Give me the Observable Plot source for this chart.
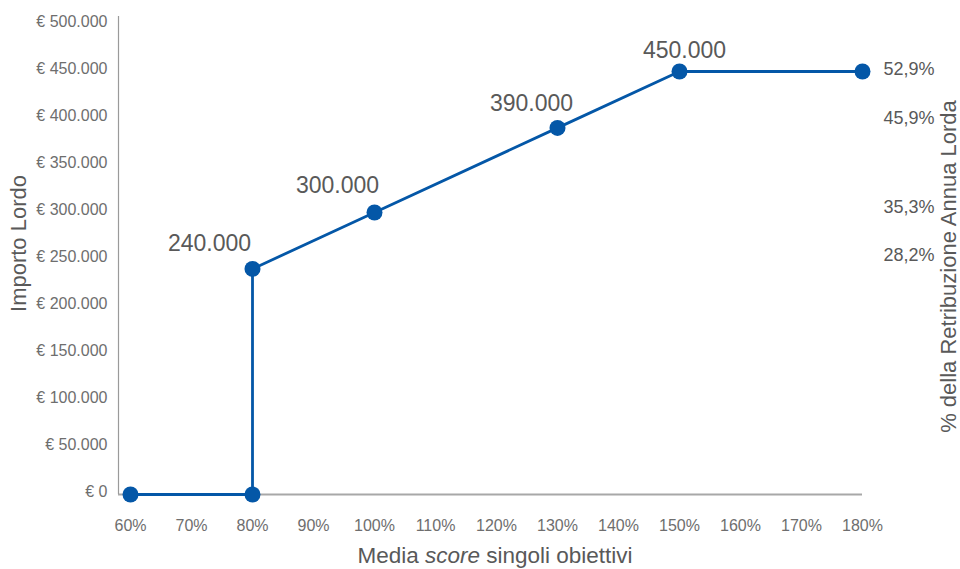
<!DOCTYPE html>
<html>
<head>
<meta charset="utf-8">
<script src="https://cdn.jsdelivr.net/npm/d3@7"></script>
<script src="https://cdn.jsdelivr.net/npm/@observablehq/plot@0.6"></script>
<style>
  body { margin: 0; background: #fff; }
  #chart svg { font-family: "Liberation Sans", Arial, sans-serif; }
</style>
</head>
<body>
<div id="chart"></div>
<script>
// Payout curve: gross amount by average score of individual objectives
const scores  = [0.6, 0.8, 0.8, 1.0, 1.3, 1.5, 1.8];
const amounts = [0, 0, 240000, 300000, 390000, 450000, 450000];

// Axis ticks
const xTicks = [0.6, 0.7, 0.8, 0.9, 1.0, 1.1, 1.2, 1.3, 1.4, 1.5, 1.6, 1.7, 1.8];
const yTicks = [0, 50000, 100000, 150000, 200000, 250000, 300000, 350000, 400000, 450000, 500000];

// Share of annual gross pay for each paid level
const pctAmounts = [450000, 390000, 300000, 240000];
const pctLabels  = ["52,9%", "45,9%", "35,3%", "28,2%"];

const it = d3.formatLocale({decimal: ",", thousands: ".", grouping: [3], currency: ["€ ", ""]});
const fmtAmount = it.format(",");

const points = scores.map((s, i) => ({score: s, amount: amounts[i]}));
const blue = "#0457a7";
const grey = "#595959";
const tickGrey = "#6e6e6e";

// value label above a point (index into points), with its own offset
const valueLabel = (i, dx, dy) => Plot.text([points[i]], {
  x: "score", y: "amount", text: d => fmtAmount(d.amount),
  dx, dy, fontSize: 23, fill: grey
});
// percentage note on the right side (index into pctAmounts)
const pctLabel = (i, dy) => Plot.text([{amount: pctAmounts[i], label: pctLabels[i]}], {
  x: () => 1.8, y: "amount", text: "label",
  dx: 21, dy, textAnchor: "start", fontSize: 18, fill: grey
});

const chart = Plot.plot({
  width: 960,
  height: 569,
  marginLeft: 118,
  marginRight: 98,
  marginTop: 16,
  marginBottom: 75,
  x: {domain: [0.6, 1.8], insetLeft: 12},
  y: {domain: [0, 508500]},
  style: {fontFamily: "'Liberation Sans', Arial, sans-serif", fontSize: "16px", background: "#fff", color: tickGrey},
  marks: [
    Plot.ruleY([0], {stroke: "#a8a8a8", strokeWidth: 2}),
    Plot.ruleX([0.6], {dx: -12, stroke: "#9a9a9a", strokeWidth: 1.2}),
    Plot.axisX({ticks: xTicks, tickFormat: d => Math.round(d * 100) + "%", tickSize: 0, tickPadding: 25, fontSize: 16, fill: tickGrey, label: null}),
    Plot.axisY({ticks: yTicks, tickFormat: d => "€ " + fmtAmount(d), tickSize: 0, tickPadding: 11, dy: -2.5, fontSize: 16, fill: tickGrey, label: null}),
    Plot.line(points, {x: "score", y: "amount", stroke: blue, strokeWidth: 2.8}),
    Plot.dot(points, {x: "score", y: "amount", r: 8, fill: blue}),
    valueLabel(2, -43, -25),
    valueLabel(3, -37, -27),
    valueLabel(4, -26, -24),
    valueLabel(5, 5, -21),
    pctLabel(0, -2),
    pctLabel(1, -10),
    pctLabel(2, -5),
    pctLabel(3, -14),
    Plot.text(["Importo Lordo"], {frameAnchor: "left", textAnchor: "middle", dx: -100, dy: -12, rotate: -90, fontSize: 22, fill: grey}),
    Plot.text(["% della Retribuzione Annua Lorda"], {frameAnchor: "right", textAnchor: "middle", dx: 86, dy: 11, rotate: -90, fontSize: 22, fill: grey})
  ]
});

// x-axis title with the italic word
const title = d3.select(chart).append("text")
  .attr("x", 495).attr("y", 555).attr("dy", "0.35em")
  .attr("text-anchor", "middle")
  .attr("font-size", 22.5).attr("fill", grey);
title.append("tspan").text("Media ");
title.append("tspan").attr("font-style", "italic").text("score");
title.append("tspan").text(" singoli obiettivi");

document.getElementById("chart").append(chart);
</script>
</body>
</html>
